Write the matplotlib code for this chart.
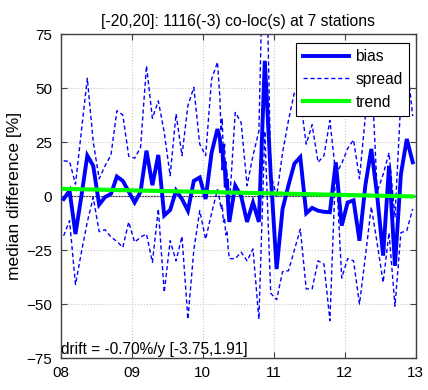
import matplotlib
matplotlib.use("Agg")
import matplotlib.pyplot as plt
import numpy as np

plt.rcParams['font.family'] = ['Liberation Sans', 'DejaVu Sans']

# month index (0 = Jan 2008), a few sub-month samples around the 2010 zigzag
months = list(range(0, 27)) + [26.4, 26.6, 26.8, 27.0, 27.2, 27.4, 27.6, 27.8] + list(range(28, 60))

bias = [-1.4, 2.5, -17.6, 0, 18.7, 14, -4, -0.5, 1, 9, 7, 2, -3, 2, 21,
        5, 19, -9, -6.5, 2.5, -1.4, -6.8, 7, 8.6, -1.4, 20, 31,
        27, 20, 24, 12, 16, 4, 8, -4,
        -12, 4.8, 0, -12, -3, -12, 62.6, 10, -33.8, -6, 5, 15, 18, -8, -5.5,
        -6.8, -7.3, -7.5, 15.6, -13.7, -3, -2, -20.7, 5, 21.8, 0, -27.6, 14,
        -32.3, 10, 26.4, 15.6]

spread_hi = [16.3, 16, 5.5, 30, 54.5, 25, 8, 14, 19, 39.5, 37.5, 18.4, 17.5, 22.5, 60.3,
             36, 44, 29.5, 9.4, 38, 18.7, 41.8, 50.3, 24, 18.7, 54, 62,
             46, 30, 36, 18, 24, 6, 12, -4,
             -5, 38.7, 34, 4.8, 18.7, 30, 150, 10, 0, 20, 35, 48, 45, 24, 33,
             15.6, 18.7, 35, 10, 15, 22, 26, 8, 37, 60, 2, 10, 20,
             -10, 45, 62, 37]

spread_lo = [-18.4, -11.4, -41, -26, -12, -0.6, -16.5, -15.6, -19, -21, -23.8, -12, -21.4, -19, -17.6,
             -30.7, -6, -44.6, -20.7, -30, -18.7, -57, -25, -6.8, -20, -8, 3,
             -2, -6, -4, -12, -10, -18, -16, -24,
             -29, -29, -26, -30, -24.5, -57, 30, -45, -48, -35, -34.6, -25, -15.3, -43, -43,
             -30, -31.5, -57.7, 15, -38, -29, -30, -50, -28, -5, -22, -40, -17,
             -51, -17, -16, -6]

trend_ends = [3.3, -0.2]
x_ticks = [2008, 2009, 2010, 2011, 2012, 2013]
x_ticklabels = ['08', '09', '10', '11', '12', '13']
y_ticks = [-75, -50, -25, 0, 25, 50, 75]

title = '[-20,20]: 1116(-3) co-loc(s) at 7 stations'
drift_text = 'drift = -0.70%/y [-3.75,1.91]'

t = 2008 + (np.array(months, dtype=float) + 0.5) / 12.0

fig = plt.figure(figsize=(4.28, 3.90), dpi=100)
ax = fig.add_axes([0.1418, 0.082, 0.8294, 0.8308])

ax.axhline(0, color='#333333', lw=0.8, zorder=1)
ax.plot(t, bias, color='#0000ff', lw=2.8, solid_joinstyle='miter', label='bias', zorder=3)
ax.plot(t, spread_hi, color='#0000ff', lw=1.0, dashes=(3, 2), label='spread', zorder=2)
ax.plot(t, spread_lo, color='#0000ff', lw=1.0, dashes=(3, 2), zorder=2)
ax.plot([t[0], t[-1]], trend_ends, color='#00ff00', lw=3.0, label='trend', zorder=4)

ax.set_xlim(2008, 2013)
ax.set_ylim(-75, 75)
ax.set_xticks(x_ticks)
ax.set_xticklabels(x_ticklabels)
ax.set_yticks(y_ticks)
ax.grid(True, color='#c8c8c8', linestyle=':', linewidth=0.8)
ax.tick_params(direction='in', top=True, right=True, labelsize=11, length=4, color='#404040', pad=6)
for s in ax.spines.values():
    s.set_color('#404040')
    s.set_linewidth(1.0)

ax.set_title(title, fontsize=11.3, pad=6)
ax.set_ylabel('median difference [%]', fontsize=12.5, labelpad=3)
ax.text(0.0, 0.003, drift_text, transform=ax.transAxes, fontsize=11.2,
        ha='left', va='bottom', zorder=6)

leg = ax.legend(loc='upper right', bbox_to_anchor=(0.981, 0.973), borderaxespad=0,
                fancybox=False, framealpha=1, edgecolor='black', fontsize=11.2,
                handlelength=3.0, handletextpad=0.4, labelspacing=0.5, borderpad=0.4)
leg.get_frame().set_linewidth(0.8)
leg.set_zorder(10)

fig.savefig('out.png', dpi=100)
